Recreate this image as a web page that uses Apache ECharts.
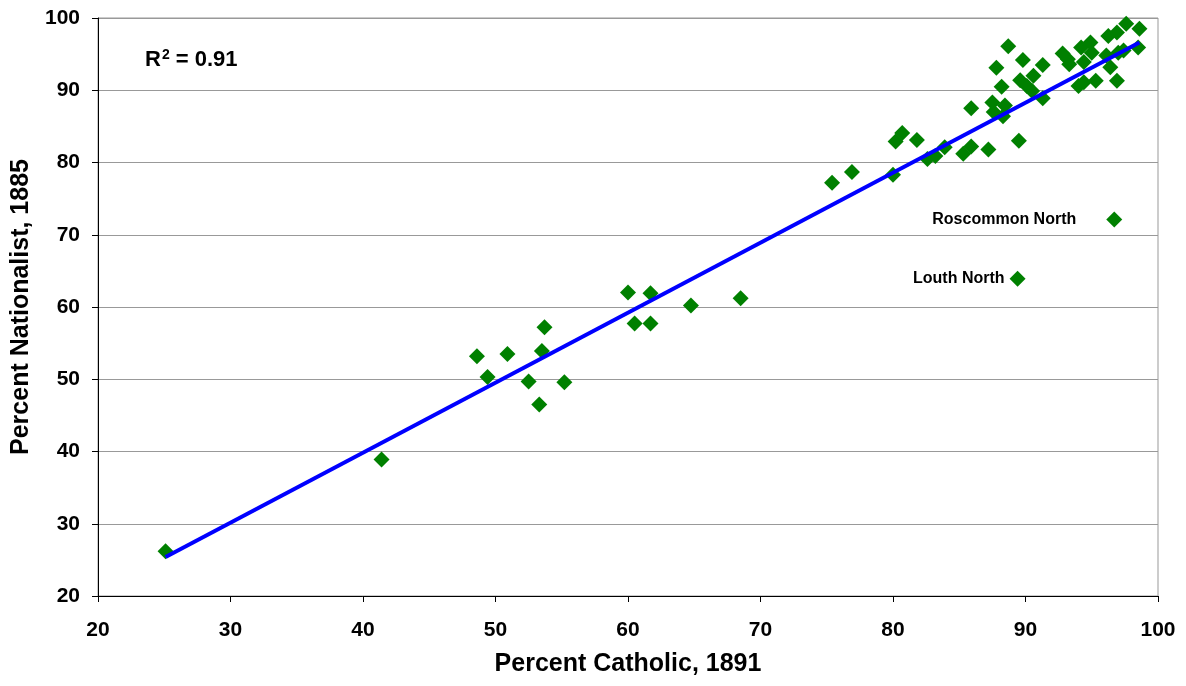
<!DOCTYPE html>
<html>
<head>
<meta charset="utf-8">
<script src="https://cdn.jsdelivr.net/npm/echarts@6/dist/echarts.min.js"></script>
<style>
  html, body { margin: 0; padding: 0; background: #fff; }
  #chart { width: 1186px; height: 686px; }
</style>
</head>
<body>
<div id="chart"></div>
<script>
// Percent Catholic (1891) vs Percent Nationalist (1885), one point per constituency
const catholic = [
  25.1, 41.4, 48.6, 49.4, 50.9, 52.5, 53.7, 53.5, 53.3, 55.2,
  60.0, 60.5, 61.7, 61.7, 64.75, 68.5, 75.4, 76.9, 80.0, 80.2,
  80.7, 81.8, 82.6, 83.2, 83.9, 85.3, 85.9, 85.9, 87.2, 89.5,
  88.7, 89.8, 87.8, 91.3, 88.2, 89.6, 90.6, 90.1, 90.5, 91.3,
  87.5, 88.45, 87.6, 88.3, 92.8, 93.2, 93.3, 94.4, 94.2, 94.9,
  95.0, 94.0, 94.4, 95.3, 96.9, 96.4, 96.1, 96.25, 96.9, 97.6,
  98.6, 98.5, 97.4, 97.0
];
const nationalist = [
  26.2, 38.9, 53.2, 50.3, 53.5, 49.7, 57.2, 53.9, 46.5, 49.6,
  62.0, 57.7, 61.9, 57.7, 60.2, 61.2, 77.2, 78.7, 78.3, 82.9,
  84.1, 83.1, 80.5, 80.9, 82.1, 81.2, 82.2, 87.5, 81.8, 83.0,
  96.1, 94.2, 93.1, 93.5, 90.5, 91.4, 92.0, 90.6, 89.9, 88.9,
  88.3, 87.9, 87.0, 86.4, 95.1, 94.3, 93.6, 93.9, 95.9, 96.6,
  95.2, 90.6, 91.1, 91.3, 91.3, 93.2, 94.8, 97.5, 98.0, 99.2,
  98.5, 95.9, 95.5, 95.2
];

// outliers that are named on the chart
const namedNames = ['Roscommon North', 'Louth North'];
const namedCatholic = [96.7, 89.4];
const namedNationalist = [72.1, 63.9];

// linear trendline endpoints
const trendX = [25.1, 98.6];
const trendY = [25.4, 96.6];

const xTicks = [20, 30, 40, 50, 60, 70, 80, 90, 100];
const yTicks = [20, 30, 40, 50, 60, 70, 80, 90, 100];

const FONT = '"Liberation Sans", Arial, sans-serif';
const GREEN = '#008000';

const chart = echarts.init(document.getElementById('chart'));

const pts = catholic.map((x, i) => [x, nationalist[i]]);
const labelDist = [30, 5];
const namedPts = namedNames.map((n, i) => ({
  name: n,
  value: [namedCatholic[i], namedNationalist[i]],
  label: { show: true, position: 'left', distance: labelDist[i], formatter: '{b}' }
}));

chart.setOption({
  animation: false,
  grid: {
    left: 98, right: 28, top: 18, bottom: 90,
    show: true, borderColor: '#999', borderWidth: 1
  },
  xAxis: {
    type: 'value',
    min: xTicks[0], max: xTicks[xTicks.length - 1], interval: 10,
    name: 'Percent Catholic, 1891',
    nameLocation: 'middle', nameGap: 56,
    nameTextStyle: { fontFamily: FONT, fontWeight: 'bold', fontSize: 25, color: '#000' },
    axisLine: { lineStyle: { color: '#000', width: 1 } },
    axisTick: { show: true, length: 6, lineStyle: { color: '#000' } },
    axisLabel: { fontFamily: FONT, fontWeight: 'bold', fontSize: 21, color: '#000', margin: 24 },
    splitLine: { show: false }
  },
  yAxis: {
    type: 'value',
    min: yTicks[0], max: yTicks[yTicks.length - 1], interval: 10,
    name: 'Percent Nationalist, 1885',
    nameLocation: 'middle', nameGap: 64,
    nameTextStyle: { fontFamily: FONT, fontWeight: 'bold', fontSize: 25, color: '#000' },
    axisLine: { show: true, lineStyle: { color: '#000', width: 1 } },
    axisTick: { show: true, length: 6, lineStyle: { color: '#000' } },
    axisLabel: { fontFamily: FONT, fontWeight: 'bold', fontSize: 21, color: '#000', margin: 18 },
    splitLine: { show: true, lineStyle: { color: '#999', width: 1 } }
  },
  graphic: [{
    type: 'text',
    left: 145, top: 48,
    style: {
      text: '{a|R}{s|2}{a| = 0.91}',
      rich: {
        a: { fontFamily: FONT, fontWeight: 'bold', fontSize: 22, fill: '#000', verticalAlign: 'bottom' },
        s: { fontFamily: FONT, fontWeight: 'bold', fontSize: 14, fill: '#000', verticalAlign: 'top', padding: [0, 0, 9, 1] }
      }
    }
  }],
  series: [
    {
      type: 'line',
      data: trendX.map((x, i) => [x, trendY[i]]),
      symbol: 'none',
      lineStyle: { color: '#0000ff', width: 4 },
      z: 3
    },
    {
      type: 'scatter',
      data: pts,
      symbol: 'diamond',
      symbolSize: 16,
      itemStyle: { color: GREEN, opacity: 1 },
      z: 2
    },
    {
      type: 'scatter',
      data: namedPts,
      symbol: 'diamond',
      symbolSize: 16,
      itemStyle: { color: GREEN, opacity: 1 },
      label: { fontFamily: FONT, fontWeight: 'bold', fontSize: 16, color: '#000', opacity: 1 },
      z: 2
    }
  ]
});
</script>
</body>
</html>
